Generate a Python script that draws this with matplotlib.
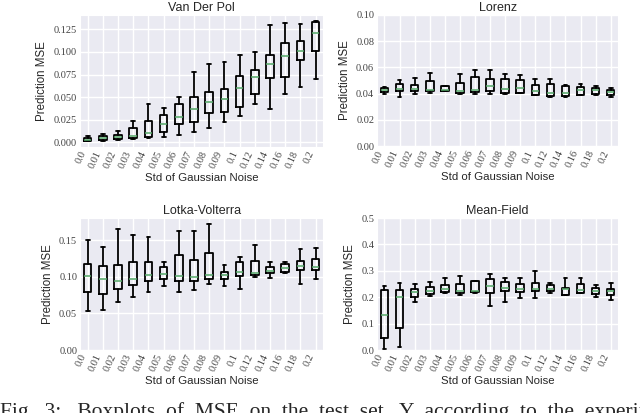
import matplotlib
matplotlib.use("Agg")
import seaborn as sns
from matplotlib import pyplot as plt

sns.set_style("darkgrid")
plt.rcParams["font.family"] = ["Liberation Sans", "DejaVu Sans"]

noise_labels = ["0.0", "0.01", "0.02", "0.03", "0.04", "0.05", "0.06", "0.07",
                "0.08", "0.09", "0.1", "0.12", "0.14", "0.16", "0.18", "0.2"]

# Van Der Pol
vdp_lo = [0.0018, 0.0015, 0.0022, 0.0037, 0.0044, 0.0056, 0.0085, 0.0119,
          0.0156, 0.022, 0.029, 0.042, 0.0374, 0.054, 0.061, 0.0696]
vdp_q1 = [0.002, 0.0022, 0.004, 0.0052, 0.0056, 0.0119, 0.0207, 0.023,
          0.032, 0.033, 0.0396, 0.053, 0.0715, 0.0726, 0.091, 0.101]
vdp_med = [0.003, 0.0048, 0.0063, 0.0067, 0.0104, 0.0204, 0.0285, 0.0374,
           0.045, 0.048, 0.0596, 0.072, 0.0867, 0.096, 0.1007, 0.1207]
vdp_q3 = [0.0044, 0.0067, 0.008, 0.0156, 0.0237, 0.0307, 0.0426, 0.050,
          0.056, 0.0585, 0.0737, 0.0796, 0.0963, 0.110, 0.112, 0.133]
vdp_hi = [0.0067, 0.009, 0.012, 0.0237, 0.0426, 0.038, 0.050, 0.078,
          0.087, 0.0885, 0.097, 0.0996, 0.1296, 0.132, 0.131, 0.1344]

# Lorenz
lor_lo = [0.0395, 0.0377, 0.0395, 0.0405, 0.042, 0.040, 0.040, 0.040,
          0.0395, 0.0405, 0.0387, 0.0374, 0.0372, 0.0387, 0.039, 0.0372]
lor_q1 = [0.0413, 0.0423, 0.0423, 0.0423, 0.042, 0.0405, 0.0415, 0.0423,
          0.0405, 0.0405, 0.039, 0.038, 0.038, 0.0392, 0.0395, 0.039]
lor_med = [0.0428, 0.0436, 0.0433, 0.0431, 0.0428, 0.0423, 0.0426, 0.0462,
           0.0433, 0.0441, 0.0418, 0.0403, 0.0403, 0.0428, 0.0428, 0.041]
lor_q3 = [0.044, 0.0474, 0.0464, 0.0497, 0.0462, 0.0485, 0.0528, 0.051,
          0.051, 0.0503, 0.0464, 0.0477, 0.0462, 0.0449, 0.044, 0.0426]
lor_hi = [0.0451, 0.0505, 0.0523, 0.0556, 0.0462, 0.0546, 0.058, 0.058,
          0.0549, 0.054, 0.0515, 0.0515, 0.0467, 0.047, 0.0456, 0.0444]

# Lotka-Volterra
lv_lo = [0.0537, 0.054, 0.065, 0.0725, 0.079, 0.0876, 0.079, 0.0817,
         0.090, 0.0876, 0.083, 0.0995, 0.0986, 0.1055, 0.090, 0.0968]
lv_q1 = [0.0798, 0.077, 0.083, 0.0885, 0.094, 0.097, 0.0945, 0.094,
         0.0968, 0.0972, 0.1014, 0.1028, 0.1055, 0.1064, 0.1087, 0.1087]
lv_med = [0.101, 0.0968, 0.094, 0.0972, 0.1028, 0.104, 0.101, 0.0995,
          0.1023, 0.1023, 0.106, 0.1046, 0.1078, 0.112, 0.1142, 0.1133]
lv_q3 = [0.117, 0.1147, 0.1156, 0.1197, 0.1197, 0.1133, 0.130, 0.123,
         0.132, 0.1064, 0.120, 0.121, 0.1138, 0.118, 0.121, 0.1248]
lv_hi = [0.150, 0.141, 0.1656, 0.157, 0.1546, 0.120, 0.1624, 0.1624,
         0.1725, 0.1165, 0.127, 0.1436, 0.1197, 0.1206, 0.138, 0.1394]

# Mean-Field
mf_lo = [0.002, 0.010, 0.181, 0.2038, 0.215, 0.2076, 0.215, 0.1684,
         0.1835, 0.196, 0.1987, 0.215, 0.2076, 0.215, 0.200, 0.190]
mf_q1 = [0.047, 0.0835, 0.201, 0.2127, 0.220, 0.2165, 0.220, 0.2177,
         0.2228, 0.220, 0.2253, 0.2253, 0.210, 0.2165, 0.2114, 0.2076]
mf_med = [0.134, 0.2025, 0.2215, 0.2228, 0.233, 0.2228, 0.2253, 0.2443,
          0.2354, 0.2316, 0.233, 0.2316, 0.2304, 0.229, 0.224, 0.2228]
mf_q3 = [0.2266, 0.2266, 0.233, 0.2405, 0.248, 0.252, 0.261, 0.268,
         0.258, 0.2506, 0.2557, 0.248, 0.2367, 0.249, 0.234, 0.233]
mf_hi = [0.243, 0.2557, 0.2506, 0.2595, 0.2734, 0.282, 0.263, 0.2886,
         0.2734, 0.2734, 0.2987, 0.2544, 0.271, 0.2734, 0.248, 0.2544]


def make_stats(lo, q1, med, q3, hi):
    return [dict(whislo=a, q1=b, med=c, q3=d, whishi=e, fliers=[])
            for a, b, c, d, e in zip(lo, q1, med, q3, hi)]


def draw_panel(ax, stats, title, ylim, yticks, ylabels):
    ax.bxp(stats, showfliers=False, widths=0.5,
           boxprops=dict(color="black", linewidth=1.3),
           whiskerprops=dict(color="black", linewidth=1.3),
           capprops=dict(color="black", linewidth=1.3),
           medianprops=dict(color="#55a868", linewidth=1.1))
    ax.set_xlim(0.5, len(stats) + 0.5)
    ax.set_ylim(*ylim)
    ax.set_yticks(yticks)
    ax.set_yticklabels(ylabels, family="Liberation Serif", fontsize=7.5)
    ax.set_xticks(range(1, len(stats) + 1))
    ax.set_xticklabels(noise_labels, rotation=65, ha="right",
                       family="Liberation Serif", fontsize=7.5)
    ax.tick_params(axis="both", length=0, pad=2, colors="#444444")
    ax.set_title(title, fontsize=9, pad=3)
    ax.set_ylabel("Prediction MSE", fontsize=8.3, labelpad=4)
    ax.set_xlabel("Std of Gaussian Noise", fontsize=8.2, labelpad=2)
    ax.grid(True, color="white", linewidth=1.0)


fig = plt.figure(figsize=(6.4, 4.13), dpi=100)
ax1 = fig.add_axes([0.125, 0.644, 0.38, 0.32])
ax2 = fig.add_axes([0.589, 0.646, 0.377, 0.318])
ax3 = fig.add_axes([0.125, 0.1525, 0.38, 0.3195])
ax4 = fig.add_axes([0.589, 0.1525, 0.377, 0.3195])

draw_panel(ax1, make_stats(vdp_lo, vdp_q1, vdp_med, vdp_q3, vdp_hi), "Van Der Pol",
           (-0.0052, 0.141), [0.0, 0.025, 0.05, 0.075, 0.1, 0.125],
           ["0.000", "0.025", "0.050", "0.075", "0.100", "0.125"])
draw_panel(ax2, make_stats(lor_lo, lor_q1, lor_med, lor_q3, lor_hi), "Lorenz",
           (0, 0.1), [0.0, 0.02, 0.04, 0.06, 0.08, 0.1],
           ["0.00", "0.02", "0.04", "0.06", "0.08", "0.10"])
draw_panel(ax3, make_stats(lv_lo, lv_q1, lv_med, lv_q3, lv_hi), "Lotka-Volterra",
           (0, 0.18), [0.0, 0.05, 0.1, 0.15],
           ["0.00", "0.05", "0.10", "0.15"])
draw_panel(ax4, make_stats(mf_lo, mf_q1, mf_med, mf_q3, mf_hi), "Mean-Field",
           (0, 0.5), [0.0, 0.1, 0.2, 0.3, 0.4, 0.5],
           ["0.0", "0.1", "0.2", "0.3", "0.4", "0.5"])

# caption, cut by the bottom edge as in the source image
fig.text(0.0, 0.026,
         "Fig.  3:   Boxplots  of  MSE  on  the  test  set.  Y  according  to  the  experiment",
         family="Liberation Serif", fontsize=15.5, va="top", ha="left")

fig.savefig("out.png", dpi=100)
